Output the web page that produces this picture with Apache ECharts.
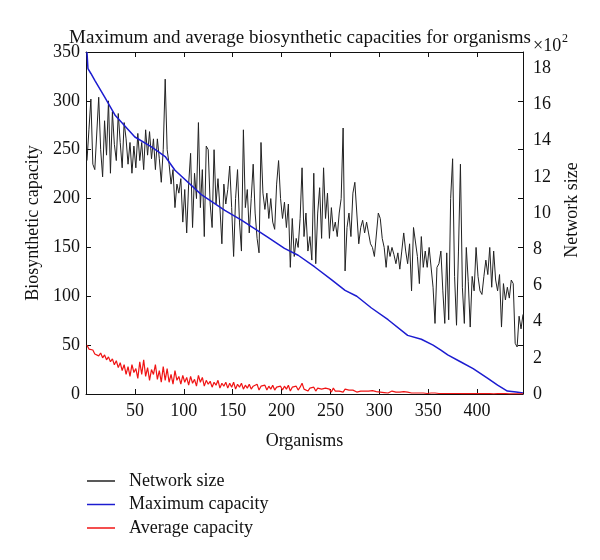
<!DOCTYPE html>
<html>
<head>
<meta charset="utf-8">
<script src="https://cdn.jsdelivr.net/npm/echarts@6/dist/echarts.min.js"></script>
<style>html,body{margin:0;padding:0;background:#fff}#c{width:600px;height:560px}</style>
</head>
<body>
<div id="c"></div>
<script>
// Network size (in units of 10^2), sampled at every second organism (1, 3, 5, ...)
const networkSize = [
  12.9, 14.6, 16.3, 12.7, 12.4, 12.5, 16.4, 13.5, 12.0, 15.1,
  13.2, 16.2, 12.2, 15.6, 13.8, 12.9, 15.5, 13.9, 12.5, 15.0,
  14.1, 12.7, 13.9, 12.2, 13.7, 12.5, 14.4, 12.9, 13.9, 12.4,
  14.6, 13.2, 14.5, 13.0, 14.1, 12.4, 14.1, 13.0, 11.7, 13.5,
  17.4, 13.5, 12.7, 11.6, 12.4, 10.3, 11.6, 11.1, 11.9, 9.5,
  11.3, 8.9, 11.6, 13.3, 9.2, 12.2, 10.8, 15.0, 10.3, 12.4,
  8.7, 13.7, 13.5, 10.5, 9.2, 13.5, 10.5, 11.9, 10.3, 8.3,
  11.6, 10.5, 11.3, 12.6, 10.3, 7.6, 10.8, 12.4, 9.5, 7.9,
  14.6, 10.3, 11.3, 8.9, 10.8, 12.7, 10.0, 8.6, 7.8, 13.9,
  11.1, 10.2, 11.1, 9.7, 10.8, 9.5, 9.1, 11.6, 12.9, 10.8,
  9.7, 10.6, 9.2, 10.5, 7.0, 9.7, 7.6, 8.6, 8.1, 9.7,
  12.5, 8.7, 10.0, 7.9, 8.7, 7.4, 12.2, 7.2, 10.0, 11.4,
  8.6, 12.5, 9.7, 11.1, 8.6, 10.3, 9.0, 9.5, 8.7, 10.0,
  10.8, 14.7, 6.8, 9.2, 10.0, 8.7, 11.1, 11.7, 11.8, 8.3,
  9.2, 9.6, 8.9, 9.5, 8.9, 8.3, 8.1, 7.6, 7.6, 10.0,
  9.7, 8.6, 8.1, 7.0, 8.2, 7.6, 8.1, 7.7, 7.2, 7.8,
  6.9, 7.9, 8.9, 7.9, 7.2, 8.3, 5.7, 9.2, 9.2, 7.6,
  6.1, 8.7, 7.0, 7.9, 7.0, 8.1, 8.2, 5.9, 3.9, 7.0,
  7.2, 7.9, 5.7, 3.9, 7.8, 4.1, 10.8, 13.0, 6.5, 3.8,
  7.9, 12.7, 5.9, 3.9, 8.1, 6.2, 3.7, 6.5, 5.7, 8.1,
  6.5, 5.7, 5.5, 6.5, 7.4, 6.6, 8.1, 5.9, 7.9, 6.3,
  5.7, 6.6, 3.7, 6.1, 5.2, 5.9, 5.3, 6.3, 6.1, 2.8,
  2.6, 4.3, 3.6, 4.4
];

// Average capacity, sampled at every second organism (1, 3, 5, ...)
const averageCapacity = [
  50, 46, 44, 45, 41, 43, 39, 42, 37, 40,
  35, 38, 33, 36, 30, 34, 27, 32, 24, 30,
  20, 28, 18, 30, 22, 26, 16, 33, 20, 35,
  18, 27, 14, 25, 20, 30, 15, 24, 12, 28,
  14, 26, 12, 20, 10, 24, 14, 18, 10, 19,
  12, 17, 9, 18, 11, 15, 8, 19, 12, 17,
  8, 14, 10, 13, 7, 12, 9, 14, 6, 11,
  8, 12, 6, 11, 7, 12, 5, 10, 7, 11,
  5, 9, 6, 10, 5, 8, 6, 10, 4, 8,
  6, 9, 4, 8, 5, 9, 4, 7, 5, 8,
  4, 8, 5, 9, 3, 7, 5, 8, 4, 7,
  11, 5, 7, 3, 6, 4, 7, 3, 6, 4,
  5, 3, 6, 4, 5, 2, 6, 3, 5, 3,
  4, 2, 5, 3, 4, 2, 4, 3, 2, 4,
  3, 2, 3, 1.5, 3, 2, 3.5, 1.5, 2.5, 2,
  2, 3, 1.5, 2.5, 1, 2, 3, 1.5, 2, 1,
  2, 1, 2.5, 1, 2, 1.5, 1, 2, 1, 1.5,
  1, 2, 1, 1.5, 0.5, 1.5, 1, 0.5, 1, 1.5,
  0.5, 1, 0.5, 1, 0.5, 1, 0.5, 0.8, 0.5, 1,
  0.5, 0.8, 0.4, 0.7, 0.5, 0.6, 0.4, 0.6, 0.3, 0.5,
  0.4, 0.5, 0.3, 0.5, 0.3, 0.4, 0.3, 0.4, 0.2, 0.3,
  0.3, 0.2, 0.3, 0.2, 0.3, 0.2, 0.2, 0.2, 0.1, 0.2,
  0.2, 0.1, 0.1, 0.1
];

// Maximum capacity (smooth decreasing curve) read at these organisms
const maxCapOrganisms = [1, 2, 5, 9, 19, 30, 40, 50, 67, 81, 91, 118, 142, 159, 185, 203, 217, 234, 251, 265, 277, 292, 309, 329, 343, 355, 363, 370, 383, 396, 411, 421, 431, 440, 447];
const maxCapacity = [350, 333, 328, 321, 304, 285, 274, 263, 253, 243, 229, 204, 188, 178, 161, 149, 142, 130, 117, 106, 100, 88, 76, 60, 56, 50, 45, 40, 33, 26, 16, 9, 3, 2, 1];

const seriesNames = ['Network size', 'Maximum capacity', 'Average capacity'];
const seriesColors = ['#222222', '#1c1cd0', '#f01414'];
const leftTicks = [0, 350, 50];
const rightTicks = [0, 18.9, 2];
const xTicks = [0, 447, 50];

const sampledOrganism = i => 1 + 2 * i;
const networkData = networkSize.map((v, i) => [sampledOrganism(i), v]);
const avgData = averageCapacity.map((v, i) => [sampledOrganism(i), v]);
const maxData = maxCapacity.map((v, i) => [maxCapOrganisms[i], v]);

const FONT = 'Liberation Serif';
const txt = { fontFamily: FONT, fontSize: 18, color: '#111' };
const frame = () => ({ show: true, onZero: false, lineStyle: { color: '#111', width: 1 } });
const inTicks = () => ({ show: true, inside: true, length: 5, lineStyle: { color: '#111' } });

const chart = echarts.init(document.getElementById('c'), null, { renderer: 'canvas' });
chart.setOption({
  backgroundColor: '#fff',
  animation: false,
  title: {
    text: 'Maximum and average biosynthetic capacities for organisms',
    left: 'center', top: 24,
    textStyle: { fontFamily: FONT, fontSize: 19, fontWeight: 'normal', color: '#111' }
  },
  legend: {
    orient: 'vertical', left: 82, top: 467,
    icon: 'rect', itemWidth: 28, itemHeight: 1.5, itemGap: 5.5,
    textStyle: { fontFamily: FONT, fontSize: 18, color: '#111', padding: [0, 0, 0, 9] },
    data: seriesNames
  },
  graphic: [
    { type: 'text', left: 533, top: 37, style: { text: '×10', fontFamily: FONT, fontSize: 18, fill: '#111' } },
    { type: 'text', left: 562, top: 33, style: { text: '2', fontFamily: FONT, fontSize: 12, fill: '#111' } },
    { type: 'text', x: 572, y: 210, rotation: Math.PI / 2,
      style: { text: 'Network size', fontFamily: FONT, fontSize: 18, fill: '#111', align: 'center', verticalAlign: 'middle' } }
  ],
  grid: { left: 86, right: 77, top: 52, bottom: 166, containLabel: false },
  xAxis: [
    {
      type: 'value', min: xTicks[0], max: xTicks[1], interval: xTicks[2],
      position: 'bottom',
      name: 'Organisms', nameLocation: 'middle', nameGap: 38, nameTextStyle: txt,
      axisLine: frame(), axisTick: inTicks(),
      axisLabel: Object.assign({ margin: 8, showMinLabel: false, showMaxLabel: false }, txt),
      splitLine: { show: false }
    },
    {
      type: 'value', min: xTicks[0], max: xTicks[1], interval: xTicks[2],
      position: 'top',
      axisLine: frame(), axisTick: inTicks(),
      axisLabel: { show: false },
      splitLine: { show: false }
    }
  ],
  yAxis: [
    {
      type: 'value', min: leftTicks[0], max: leftTicks[1], interval: leftTicks[2],
      position: 'left',
      name: 'Biosynthetic capacity', nameLocation: 'middle', nameRotate: 90, nameGap: 44, nameTextStyle: txt,
      axisLine: frame(), axisTick: inTicks(),
      axisLabel: Object.assign({ margin: 6 }, txt),
      splitLine: { show: false }
    },
    {
      type: 'value', min: rightTicks[0], max: rightTicks[1], interval: rightTicks[2],
      position: 'right',
      axisLine: frame(),
      axisTick: { show: false },
      axisLabel: Object.assign({ margin: 10, showMaxLabel: false }, txt),
      splitLine: { show: false }
    },
    {
      type: 'value', min: leftTicks[0], max: leftTicks[1], interval: leftTicks[2],
      position: 'right', offset: 0,
      axisLine: { show: false, onZero: false }, axisTick: inTicks(),
      axisLabel: { show: false },
      splitLine: { show: false }
    }
  ],
  series: [
    {
      name: seriesNames[0], type: 'line', xAxisIndex: 0, yAxisIndex: 1,
      data: networkData, symbol: 'none', lineStyle: { color: seriesColors[0], width: 1 }, itemStyle: { color: seriesColors[0] }
    },
    {
      name: seriesNames[1], type: 'line', xAxisIndex: 0, yAxisIndex: 0,
      data: maxData, symbol: 'none', lineStyle: { color: seriesColors[1], width: 1.5 }, itemStyle: { color: seriesColors[1] }
    },
    {
      name: seriesNames[2], type: 'line', xAxisIndex: 0, yAxisIndex: 0,
      data: avgData, symbol: 'none', lineStyle: { color: seriesColors[2], width: 1.2 }, itemStyle: { color: seriesColors[2] }
    }
  ]
});
</script>
</body>
</html>
